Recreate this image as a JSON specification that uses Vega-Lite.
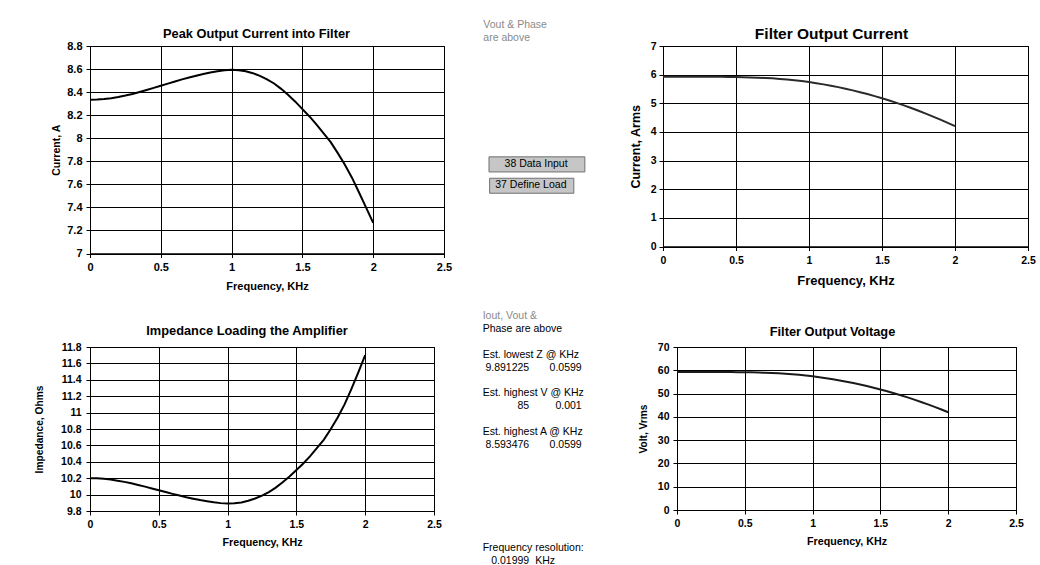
{
  "$schema": "https://vega.github.io/schema/vega-lite/v6.json",
  "background": "white",
  "padding": {"left": 34, "top": 20, "right": 0, "bottom": 0},
  "datasets": {
    "curve": [
      {"f": 0.00, "z": 10.200, "ipk": 8.3333, "vrms": 59.30, "irms": 5.930},
      {"f": 0.05, "z": 10.198, "ipk": 8.3350, "vrms": 59.30, "irms": 5.930},
      {"f": 0.10, "z": 10.192, "ipk": 8.3399, "vrms": 59.30, "irms": 5.930},
      {"f": 0.15, "z": 10.183, "ipk": 8.3472, "vrms": 59.30, "irms": 5.930},
      {"f": 0.20, "z": 10.170, "ipk": 8.3579, "vrms": 59.29, "irms": 5.929},
      {"f": 0.25, "z": 10.155, "ipk": 8.3703, "vrms": 59.28, "irms": 5.928},
      {"f": 0.30, "z": 10.138, "ipk": 8.3843, "vrms": 59.27, "irms": 5.927},
      {"f": 0.35, "z": 10.118, "ipk": 8.4009, "vrms": 59.25, "irms": 5.925},
      {"f": 0.40, "z": 10.097, "ipk": 8.4184, "vrms": 59.23, "irms": 5.923},
      {"f": 0.45, "z": 10.075, "ipk": 8.4367, "vrms": 59.20, "irms": 5.920},
      {"f": 0.50, "z": 10.053, "ipk": 8.4552, "vrms": 59.16, "irms": 5.916},
      {"f": 0.55, "z": 10.031, "ipk": 8.4737, "vrms": 59.11, "irms": 5.911},
      {"f": 0.60, "z": 10.009, "ipk": 8.4924, "vrms": 59.04, "irms": 5.904},
      {"f": 0.65, "z": 9.988, "ipk": 8.5102, "vrms": 58.95, "irms": 5.895},
      {"f": 0.70, "z": 9.968, "ipk": 8.5273, "vrms": 58.84, "irms": 5.884},
      {"f": 0.75, "z": 9.950, "ipk": 8.5427, "vrms": 58.70, "irms": 5.870},
      {"f": 0.80, "z": 9.933, "ipk": 8.5573, "vrms": 58.52, "irms": 5.852},
      {"f": 0.85, "z": 9.919, "ipk": 8.5694, "vrms": 58.30, "irms": 5.830},
      {"f": 0.90, "z": 9.906, "ipk": 8.5807, "vrms": 58.04, "irms": 5.804},
      {"f": 0.95, "z": 9.896, "ipk": 8.5893, "vrms": 57.74, "irms": 5.774},
      {"f": 1.00, "z": 9.891, "ipk": 8.5935, "vrms": 57.40, "irms": 5.740},
      {"f": 1.05, "z": 9.895, "ipk": 8.5902, "vrms": 57.02, "irms": 5.702},
      {"f": 1.10, "z": 9.905, "ipk": 8.5815, "vrms": 56.60, "irms": 5.660},
      {"f": 1.15, "z": 9.925, "ipk": 8.5642, "vrms": 56.14, "irms": 5.614},
      {"f": 1.20, "z": 9.952, "ipk": 8.5410, "vrms": 55.64, "irms": 5.564},
      {"f": 1.25, "z": 9.987, "ipk": 8.5111, "vrms": 55.10, "irms": 5.510},
      {"f": 1.30, "z": 10.030, "ipk": 8.4746, "vrms": 54.51, "irms": 5.451},
      {"f": 1.35, "z": 10.085, "ipk": 8.4284, "vrms": 53.88, "irms": 5.388},
      {"f": 1.40, "z": 10.150, "ipk": 8.3744, "vrms": 53.21, "irms": 5.321},
      {"f": 1.45, "z": 10.220, "ipk": 8.3170, "vrms": 52.50, "irms": 5.250},
      {"f": 1.50, "z": 10.300, "ipk": 8.2524, "vrms": 51.75, "irms": 5.175},
      {"f": 1.55, "z": 10.380, "ipk": 8.1888, "vrms": 50.96, "irms": 5.096},
      {"f": 1.60, "z": 10.470, "ipk": 8.1184, "vrms": 50.13, "irms": 5.013},
      {"f": 1.65, "z": 10.570, "ipk": 8.0416, "vrms": 49.26, "irms": 4.926},
      {"f": 1.70, "z": 10.670, "ipk": 7.9663, "vrms": 48.35, "irms": 4.835},
      {"f": 1.75, "z": 10.800, "ipk": 7.8704, "vrms": 47.40, "irms": 4.740},
      {"f": 1.80, "z": 10.940, "ipk": 7.7697, "vrms": 46.40, "irms": 4.640},
      {"f": 1.85, "z": 11.100, "ipk": 7.6577, "vrms": 45.36, "irms": 4.536},
      {"f": 1.90, "z": 11.290, "ipk": 7.5288, "vrms": 44.28, "irms": 4.428},
      {"f": 1.95, "z": 11.490, "ipk": 7.3977, "vrms": 43.16, "irms": 4.316},
      {"f": 2.00, "z": 11.700, "ipk": 7.2650, "vrms": 42.00, "irms": 4.200}
    ],
    "midTop": [
      {"text": "Vout & Phase", "row": 2, "col": 1, "group": "note"},
      {"text": "are above", "row": 3, "col": 1, "group": "note"}
    ],
    "buttons": [
      {"text": "38 Data Input", "left": 1.165, "right": 2.99, "top": 12.2, "bottom": 13.37, "midCol": 2.061, "midRow": 12.77},
      {"text": "37 Define Load", "left": 1.177, "right": 2.78, "top": 13.86, "bottom": 15.02, "midCol": 1.962, "midRow": 14.4}
    ],
    "midBottom": [
      {"text": "Iout, Vout &", "row": 24, "col": 1, "colEnd": 2, "type": "text", "group": "note"},
      {"text": "Phase are above", "row": 25, "col": 1, "colEnd": 2, "type": "text", "group": "result"},
      {"text": "Est. lowest Z @ KHz", "row": 27, "col": 1, "colEnd": 2, "type": "text", "group": "result"},
      {"text": "9.891225", "row": 28, "col": 1, "colEnd": 2, "type": "number", "group": "result"},
      {"text": "0.0599", "row": 28, "col": 2, "colEnd": 3, "type": "number", "group": "result"},
      {"text": "Est. highest V @ KHz", "row": 30, "col": 1, "colEnd": 2, "type": "text", "group": "result"},
      {"text": "85", "row": 31, "col": 1, "colEnd": 2, "type": "number", "group": "result"},
      {"text": "0.001", "row": 31, "col": 2, "colEnd": 3, "type": "number", "group": "result"},
      {"text": "Est. highest A @ KHz", "row": 33, "col": 1, "colEnd": 2, "type": "text", "group": "result"},
      {"text": "8.593476", "row": 34, "col": 1, "colEnd": 2, "type": "number", "group": "result"},
      {"text": "0.0599", "row": 34, "col": 2, "colEnd": 3, "type": "number", "group": "result"},
      {"text": "Frequency resolution:", "row": 42, "col": 1, "colEnd": 2, "type": "text", "group": "result"},
      {"text": "0.01999", "row": 43, "col": 1, "colEnd": 2, "type": "number", "group": "result"},
      {"text": "KHz", "row": 43, "col": 2, "colEnd": 3, "type": "text", "group": "result"}
    ]
  },
  "spacing": 18,
  "vconcat": [
    {
      "spacing": 8,
      "hconcat": [
        {
          "width": 354, "height": 207.5,
          "title": {"text": "Peak Output Current into Filter", "fontSize": 12.8, "offset": -0.3, "dx": -10.5},
          "data": {"name": "curve"},
          "mark": {"type": "line", "color": "#000", "strokeWidth": 2},
          "encoding": {
            "x": {"field": "f", "type": "quantitative", "scale": {"domain": [0, 2.5], "nice": false},
              "axis": {"values": [0, 0.5, 1, 1.5, 2, 2.5], "format": "~r", "title": "Frequency, KHz", "titleFontSize": 11, "labelFontSize": 11, "labelPadding": 4, "titlePadding": 8}},
            "y": {"field": "ipk", "type": "quantitative", "scale": {"domain": [7, 8.8], "nice": false, "zero": false},
              "axis": {"values": [7, 7.2, 7.4, 7.6, 7.8, 8, 8.2, 8.4, 8.6, 8.8], "format": "~r", "title": "Current, A", "titleFontSize": 10.5, "labelFontSize": 11, "labelPadding": 4, "titlePadding": 5}}
          }
        },
        {
          "width": 159, "height": 160,
          "view": {"stroke": null},
          "layer": [
            {
              "data": {"name": "buttons"},
              "mark": {"type": "rect", "fill": "#c6c6c6", "stroke": "#707070", "strokeWidth": 1},
              "encoding": {
                "x": {"field": "left", "type": "quantitative", "scale": {"domain": [0.632, 3.659], "nice": false, "zero": false}, "axis": null},
                "x2": {"field": "right"},
                "y": {"field": "top", "type": "quantitative", "scale": {"domain": [3.608, 16.01], "nice": false, "zero": false, "reverse": true}, "axis": null},
                "y2": {"field": "bottom"}
              }
            },
            {
              "data": {"name": "buttons"},
              "mark": {"type": "text", "fontSize": 10.5, "color": "#000", "baseline": "middle"},
              "encoding": {
                "x": {"field": "midCol", "type": "quantitative"},
                "y": {"field": "midRow", "type": "quantitative"},
                "text": {"field": "text"}
              }
            },
            {
              "data": {"name": "midTop"},
              "mark": {"type": "text", "fontSize": 10.5, "align": "left", "baseline": "middle", "dx": 3},
              "encoding": {
                "x": {"field": "col", "type": "quantitative"},
                "y": {"field": "row", "type": "quantitative"},
                "text": {"field": "text"},
                "color": {"field": "group", "type": "nominal", "scale": {"domain": ["note", "result"], "range": ["#8a8a8a", "#000000"]}, "legend": null}
              }
            }
          ]
        },
        {
          "width": 365, "height": 200.5,
          "title": {"text": "Filter Output Current", "fontSize": 15.5, "offset": -1.5, "dx": -14},
          "data": {"name": "curve"},
          "mark": {"type": "line", "color": "#2a2a2a", "strokeWidth": 2},
          "encoding": {
            "x": {"field": "f", "type": "quantitative", "scale": {"domain": [0, 2.5], "nice": false},
              "axis": {"values": [0, 0.5, 1, 1.5, 2, 2.5], "format": "~r", "title": "Frequency, KHz", "titleFontSize": 13, "labelFontSize": 10.5, "labelPadding": 5, "titlePadding": 8}},
            "y": {"field": "irms", "type": "quantitative", "scale": {"domain": [0, 7], "nice": false},
              "axis": {"values": [0, 1, 2, 3, 4, 5, 6, 7], "format": "~r", "title": "Current, Arms", "titleFontSize": 12.5, "labelFontSize": 10.5, "labelPadding": 3, "titlePadding": 8}}
          }
        }
      ]
    },
    {
      "spacing": 19,
      "hconcat": [
        {
          "width": 344, "height": 164,
          "title": {"text": "Impedance Loading the Amplifier", "fontSize": 12.8, "offset": 4, "dx": -15},
          "data": {"name": "curve"},
          "mark": {"type": "line", "color": "#000", "strokeWidth": 2},
          "encoding": {
            "x": {"field": "f", "type": "quantitative", "scale": {"domain": [0, 2.5], "nice": false},
              "axis": {"values": [0, 0.5, 1, 1.5, 2, 2.5], "format": "~r", "title": "Frequency, KHz", "titleFontSize": 10.7, "labelFontSize": 10.5, "labelPadding": 4, "titlePadding": 8}},
            "y": {"field": "z", "type": "quantitative", "scale": {"domain": [9.8, 11.8], "nice": false, "zero": false},
              "axis": {"values": [9.8, 10, 10.2, 10.4, 10.6, 10.8, 11, 11.2, 11.4, 11.6, 11.8], "format": "~r", "title": "Impedance, Ohms", "titleFontSize": 10.2, "labelFontSize": 10.5, "labelPadding": 5, "titlePadding": 16}}
          }
        },
        {
          "width": 156.6, "height": 218,
          "view": {"stroke": null},
          "layer": [
            {
              "data": {"name": "midBottom"},
              "transform": [{"filter": "datum.type == 'text'"}],
              "mark": {"type": "text", "fontSize": 10.5, "align": "left", "baseline": "middle", "dx": 3},
              "encoding": {
                "x": {"field": "col", "type": "quantitative", "scale": {"domain": [0.644, 3.627], "nice": false, "zero": false}, "axis": null},
                "y": {"field": "row", "type": "quantitative", "scale": {"domain": [26.403, 43.30], "nice": false, "zero": false, "reverse": true}, "axis": null},
                "text": {"field": "text"},
                "color": {"field": "group", "type": "nominal", "scale": {"domain": ["note", "result"], "range": ["#8a8a8a", "#000000"]}, "legend": null}
              }
            },
            {
              "data": {"name": "midBottom"},
              "transform": [{"filter": "datum.type == 'number'"}],
              "mark": {"type": "text", "fontSize": 10.5, "align": "right", "baseline": "middle", "dx": -3},
              "encoding": {
                "x": {"field": "colEnd", "type": "quantitative"},
                "y": {"field": "row", "type": "quantitative"},
                "text": {"field": "text"},
                "color": {"field": "group", "type": "nominal", "legend": null}
              }
            }
          ]
        },
        {
          "width": 339, "height": 163,
          "title": {"text": "Filter Output Voltage", "fontSize": 12.8, "offset": 3, "dx": -14},
          "data": {"name": "curve"},
          "mark": {"type": "line", "color": "#1a1a1a", "strokeWidth": 2},
          "encoding": {
            "x": {"field": "f", "type": "quantitative", "scale": {"domain": [0, 2.5], "nice": false},
              "axis": {"values": [0, 0.5, 1, 1.5, 2, 2.5], "format": "~r", "title": "Frequency, KHz", "titleFontSize": 10.7, "labelFontSize": 10.5, "labelPadding": 4, "titlePadding": 8}},
            "y": {"field": "vrms", "type": "quantitative", "scale": {"domain": [0, 70], "nice": false},
              "axis": {"values": [0, 10, 20, 30, 40, 50, 60, 70], "format": "~r", "title": "Volt, Vrms", "titleFontSize": 10.2, "labelFontSize": 10.5, "labelPadding": 4, "titlePadding": 9}}
          }
        }
      ]
    }
  ],
  "config": {
    "font": "Liberation Sans",
    "view": {"stroke": "#000", "strokeWidth": 1},
    "axis": {
      "grid": true, "gridColor": "#000", "gridOpacity": 1, "gridWidth": 1,
      "domainColor": "#000", "domainWidth": 1, "tickColor": "#000", "tickSize": 4, "tickWidth": 1,
      "labelColor": "#000", "titleColor": "#000",
      "labelFont": "Liberation Sans", "titleFont": "Liberation Sans",
      "labelFontWeight": "bold", "titleFontWeight": "bold",
      "labelFlush": false, "labelOverlap": false
    },
    "title": {"color": "#000", "font": "Liberation Sans", "fontWeight": "bold", "frame": "group", "anchor": "middle"},
    "text": {"font": "Liberation Sans"}
  }
}
